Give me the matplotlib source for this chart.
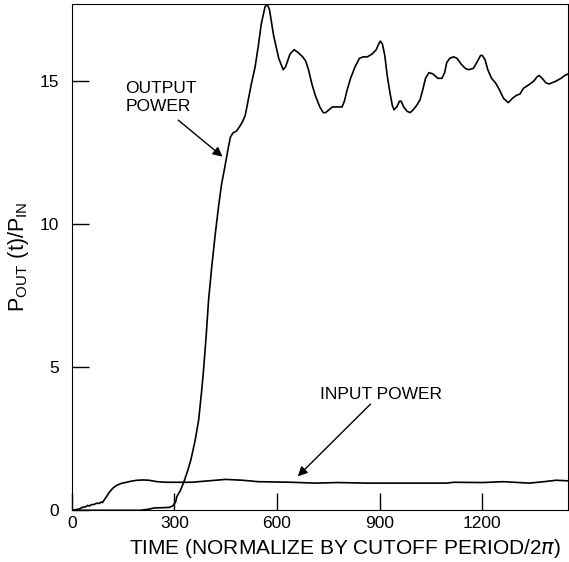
import matplotlib
matplotlib.use("Agg")
from matplotlib import pyplot as plt

# values
out_t = [0, 100, 200, 226, 240, 284, 295, 304, 307, 318, 328, 338, 348, 360, 371,
         380, 386, 393, 400, 410, 420, 430, 438, 446, 452, 458, 464, 472, 481, 490,
         500, 507, 512, 516, 525, 536, 545, 554, 565, 571, 578, 590, 605, 618, 625,
         638, 650, 662, 675, 684, 692, 702, 712, 725, 735, 742, 752, 762, 775, 790,
         797, 805, 815, 828, 841, 852, 864, 878, 890, 897, 902, 908, 915, 922, 930,
         937, 942, 950, 958, 963, 970, 980, 989, 998, 1008, 1018, 1026, 1034, 1044,
         1056, 1070, 1082, 1090, 1096, 1105, 1116, 1126, 1138, 1150, 1160, 1174,
         1186, 1195, 1200, 1208, 1216, 1227, 1238, 1250, 1262, 1276, 1288, 1299,
         1310, 1320, 1333, 1350, 1360, 1366, 1375, 1385, 1395, 1405, 1415, 1430,
         1441, 1450]
out_p = [0, 0, 0, 0.04, 0.08, 0.1, 0.15, 0.3, 0.47, 0.7, 1.0, 1.35, 1.75, 2.4, 3.15,
         4.2, 5.0, 6.1, 7.35, 8.6, 9.7, 10.7, 11.4, 11.9, 12.3, 12.7, 13.05, 13.2,
         13.25, 13.4, 13.6, 13.8, 14.1, 14.35, 14.9, 15.5, 16.2, 17.0, 17.6, 17.7,
         17.5, 16.6, 15.8, 15.4, 15.5, 15.95, 16.1, 16.0, 15.85, 15.7, 15.4, 14.9,
         14.5, 14.1, 13.9, 13.9, 14.0, 14.1, 14.1, 14.1, 14.3, 14.7, 15.1, 15.5, 15.8,
         15.85, 15.85, 15.95, 16.1, 16.3, 16.4, 16.3, 15.9, 15.2, 14.6, 14.15, 14.0,
         14.1, 14.3, 14.3, 14.1, 13.95, 13.9, 14.0, 14.15, 14.35, 14.7, 15.1, 15.3,
         15.25, 15.1, 15.1, 15.3, 15.65, 15.8, 15.85, 15.8, 15.6, 15.45, 15.4, 15.45,
         15.7, 15.9, 15.9, 15.75, 15.4, 15.1, 14.95, 14.7, 14.4, 14.25, 14.4, 14.5,
         14.55, 14.75, 14.85, 15.0, 15.15, 15.2, 15.1, 14.95, 14.9, 14.95, 15.0, 15.1,
         15.2, 15.25]

in_t = [0, 15, 23, 30, 40, 47, 52, 58, 64, 70, 75, 81, 86, 90, 96, 103, 110, 120,
        131, 145, 160, 175, 191, 210, 226, 250, 276, 351, 400, 450, 500, 545, 641,
        711, 777, 864, 951, 1096, 1117, 1200, 1262, 1337, 1380, 1415, 1450]
in_p = [0, 0.03, 0.05, 0.1, 0.12, 0.17, 0.15, 0.2, 0.2, 0.23, 0.25, 0.24, 0.29,
        0.27, 0.38, 0.5, 0.63, 0.77, 0.87, 0.94, 0.98, 1.02, 1.05, 1.06, 1.05, 1.0,
        0.98, 0.98, 1.03, 1.08, 1.05, 1.0, 0.98, 0.95, 0.97, 0.95, 0.95, 0.95, 0.98,
        0.97, 1.0, 0.95, 1.0, 1.05, 1.03]

x_ticks = [0, 300, 600, 900, 1200]
y_ticks = [0, 5, 10, 15]

plt.rcParams["font.family"] = ["Liberation Sans", "DejaVu Sans"]

fig = plt.figure(figsize=(5.69, 5.62), dpi=100)
ax = fig.add_axes([0.126, 0.092, 0.872, 0.901])

ax.plot(out_t, out_p, color="black", lw=1.2)
ax.plot(in_t, in_p, color="black", lw=1.2)

ax.set_xlim(0, 1450)
ax.set_ylim(0, 17.7)
ax.set_xticks(x_ticks)
ax.set_yticks(y_ticks)
ax.tick_params(direction="in", length=12, width=1, labelsize=12.5,
               top=False, right=False)
ax.tick_params(axis="y", pad=9)
ax.tick_params(axis="x", pad=4)

ax.set_xlabel("TIME (NORMALIZE BY CUTOFF PERIOD/2$\\pi$)", fontsize=15)
ax.xaxis.set_label_coords(0.55, -0.052)
ax.set_ylabel("$\\mathregular{P_{OUT}\\ (t)/P_{IN}}$", fontsize=15.5, labelpad=6)

arrow = dict(arrowstyle="-|>", color="black", lw=1, mutation_scale=14)
ax.text(157, 15.0, "OUTPUT\nPOWER", fontsize=12.5, va="top", ha="left",
        linespacing=1.25)
ax.annotate("", xy=(447, 12.3), xytext=(305, 13.7), arrowprops=arrow)
ax.text(725, 4.06, "INPUT POWER", fontsize=12.5, va="center", ha="left")
ax.annotate("", xy=(655, 1.12), xytext=(879, 3.78), arrowprops=arrow)

fig.savefig("out.png", dpi=100)
